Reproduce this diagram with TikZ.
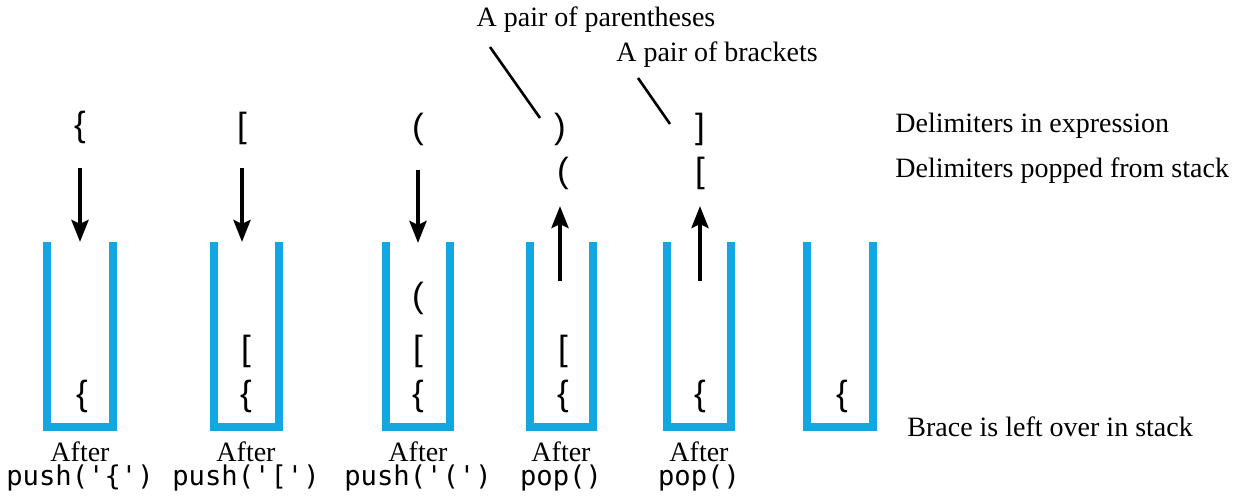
\documentclass[tikz,border=0pt]{standalone}
\usepackage{fontspec}
\setmainfont{Liberation Serif}
\newfontfamily\delimfont{Liberation Sans}
\newfontfamily\codefont{DejaVu Sans Mono}
\usetikzlibrary{arrows.meta}
\definecolor{stackblue}{RGB}{16,168,226}
\begin{document}
\begin{tikzpicture}[x=0.5pt,y=-0.5pt,
  stackwall/.style={draw=stackblue,line width=4pt,line cap=butt,line join=miter},
  delim/.style={font=\delimfont\fontsize{17.5}{17.5}\selectfont,inner sep=0pt},
  caption/.style={font=\fontsize{14}{14}\selectfont,inner sep=0pt},
  opcode/.style={font=\codefont\fontsize{13.6}{13.6}\selectfont,inner sep=0pt},
  flow/.style={draw=black,line width=2pt,-{Stealth[length=11pt,width=8.5pt,inset=2pt]}},
  pointer/.style={draw=black,line width=1.3pt}]
\useasboundingbox (0,0) rectangle (1236,498);

% stacks: two walls and a floor each
\foreach \l/\r/\n in {47/112.5/1, 214/278.5/2, 386/450/3, 530/593/4, 667/731/5, 807/873/6}{
  \draw[stackwall] (\l,242) -- (\l,427) -- (\r,427) -- (\r,242);
}

% delimiters read from the expression
\node[delim] (e1) at (80,127) {\{};
\node[delim] (e2) at (242,128) {[};
\node[delim] (e3) at (418,129) {(};
\node[delim] (e4) at (560,129) {)};
\node[delim] (e5) at (700,129) {]};

% delimiters popped from the stack
\node[delim] (p4) at (563,173) {(};
\node[delim] (p5) at (700,173) {[};

% stack contents
\node[delim] (s1a) at (82,396) {\{};
\node[delim] (s2a) at (246,396) {\{};
\node[delim] (s2b) at (246,351) {[};
\node[delim] (s3a) at (418,396) {\{};
\node[delim] (s3b) at (418,351) {[};
\node[delim] (s3c) at (418,298) {(};
\node[delim] (s4a) at (563,396) {\{};
\node[delim] (s4b) at (563,351) {[};
\node[delim] (s5a) at (700,396) {\{};
\node[delim] (s6a) at (842,396) {\{};

% push arrows
\coordinate (a1s) at (80,168);  \coordinate (a1e) at (80,242);
\coordinate (a2s) at (242,168); \coordinate (a2e) at (242,242);
\coordinate (a3s) at (418,170); \coordinate (a3e) at (418,243);
\draw[flow] (a1s) -- (a1e);
\draw[flow] (a2s) -- (a2e);
\draw[flow] (a3s) -- (a3e);
% pop arrows
\coordinate (b4s) at (560,281); \coordinate (b4e) at (560,206);
\coordinate (b5s) at (700,281); \coordinate (b5e) at (700,206);
\draw[flow] (b4s) -- (b4e);
\draw[flow] (b5s) -- (b5e);

% matching-pair annotations
\node[caption] (paren) at (596,20) {A pair of parentheses};
\node[caption] (brack) at (717,55) {A pair of brackets};
\coordinate (pp1) at (490,47);  \coordinate (pp2) at (540,118);
\coordinate (bp1) at (638,78);  \coordinate (bp2) at (670,124);
\draw[pointer] (pp1) -- (pp2);
\draw[pointer] (bp1) -- (bp2);

% row legends
\node[caption,anchor=west] (lexpr) at (895,126) {Delimiters in expression};
\node[caption,anchor=west] (lpop) at (895,171) {Delimiters popped from stack};
\node[caption,anchor=west] (lleft) at (907,427) {Brace is left over in stack};

% operation labels
\foreach \x/\op/\n in {80/{push('\{')}/1, 246/{push('[')}/2, 418/{push('(')}/3, 561/{pop()}/4, 699/{pop()}/5}{
  \node[caption] (af\n) at (\x,452) {After};
  \node[opcode] (op\n) at (\x,478) {\op};
}
\end{tikzpicture}
\end{document}
